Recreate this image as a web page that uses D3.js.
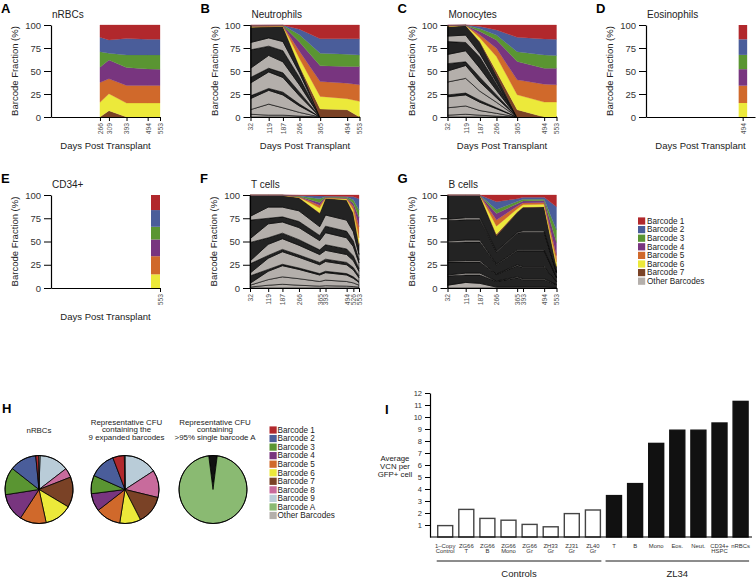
<!DOCTYPE html>
<html><head><meta charset="utf-8">
<script src="https://cdn.jsdelivr.net/npm/d3@7/dist/d3.min.js"></script>
<style>body{margin:0;background:#fff}svg{font-family:"Liberation Sans",Arial,Helvetica,sans-serif}</style>
</head><body><svg id="c" width="756" height="578"></svg>
<script>
// ---------------- DATA ----------------
const legendKeys = ["b1","b2","b3","b4","b5","b6","b7","other"];
const legendLabels = ["Barcode 1","Barcode 2","Barcode 3","Barcode 4","Barcode 5","Barcode 6","Barcode 7","Other Barcodes"];
const pieLegendKeys = ["b1","b2","b3","b4","b5","b6","b7","b8","b9","bA","other"];
const pieLegendLabels = ["Barcode 1","Barcode 2","Barcode 3","Barcode 4","Barcode 5","Barcode 6","Barcode 7","Barcode 8","Barcode 9","Barcode A","Other Barcodes"];

// A nRBCs  (rows: Barcode 1..7)
const nrbcDays = [266,309,393,494,553];
const nrbcBarcodes = [
  [13.4,16.2,14.8,15.5,15.5],
  [15.6,14.5,17.7,17.0,17.0],
  [17.0,7.3,13.7,15.2,15.5],
  [16.5,20.5,19.5,18.0,17.7],
  [21.6,16.2,19.1,19.1,19.1],
  [15.9,18.4,15.2,15.2,15.2],
  [0,6.9,0,0,0]
];
const nrbcOther = [];
const nrbcTicks = [266,309,393,494,553];

// B Neutrophils
const neutDays = [32,119,187,266,365,494,553];
const neutBarcodes = [
  [0.3,0.2,0.2,4.5,15,15,15],
  [0.3,0.3,0.2,6,15.7,16.8,17.5],
  [0.4,0.3,0.2,8,13.7,13.3,12.6],
  [0.3,0.3,0.2,10,17,18.1,19.9],
  [0.5,0.4,0.3,8,16.2,16.9,18],
  [0.6,0.4,0.3,8,13.7,12,17],
  [0.1,0.1,0.1,1,8.7,7.9,0]
];
const neutOther = [
  [3,2,2,1,0,0,0],
  [5,12,8,4,0,0,0],
  [12,15,14,7,0,0,0],
  [3,2,3,2,0,0,0],
  [14,18,16,9,0,0,0],
  [6,4,5,4,0,0,0],
  [10,14,12,8,0,0,0],
  [20,10,12,8,0,0,0],
  [8,9,10,5,0,0,0],
  [16.5,12,16.5,6.5,0,0,0]
];
const neutTicks = [32,119,187,266,365,494,553];

// C Monocytes
const monoDays = [32,119,187,266,365,494,553];
const monoBarcodes = [
  [0.2,0.05,1.5,5.4,13.4,15.2,15.5],
  [0.3,0.1,2.5,5.6,15.6,17.3,17.7],
  [0.3,0.05,3,5.2,10.7,14.5,13.8],
  [0.3,0.1,4,9.1,19.9,17.3,18],
  [0.3,0.05,3,9,16.2,19.5,18.8],
  [0.5,0.1,4,16.2,16.3,16.2,16.2],
  [0.1,0.05,1,4.5,7.9,0,0]
];
const monoOther = [
  [2,3,2,1,0,0,0],
  [8,9,5,3,0,0,0],
  [12,12,9,5,0,0,0],
  [2,2,2,1,0,0,0],
  [14,16,10,6,0,0,0],
  [12,14,10,5,0,0,0],
  [8,4,5,3,0,0,0],
  [10,12,10,5,0,0,0],
  [14,9,12,7,0,0,0],
  [6,8,4,2,0,0,0],
  [10,10.5,12,7,0,0,0]
];
const monoTicks = [32,119,187,266,365,494,553];

// D Eosinophils
const eosDays = [494];
const eosBarcodes = [[15.5],[17],[15.5],[18],[18.8],[15.2],[0]];
const eosOther = [];
const eosTicks = [494];

// E CD34+
const cd34Days = [553];
const cd34Barcodes = [[16.2],[18],[13.6],[18],[19.5],[14.7],[0]];
const cd34Other = [];
const cd34Ticks = [553];

// F T cells
const tDays = [32,119,187,266,365,393,494,526,553];
const tBarcodes = [
  [0.1,0.1,0.1,0.5,1,1,1.5,2,4],
  [0.1,0.1,0.1,0.5,3,0.6,1,3,12],
  [0.1,0.1,0.1,0.5,4,0.6,0.7,4,8],
  [0.05,0.05,0.05,0.4,3,0.5,0.5,3,10],
  [0.05,0.05,0.05,0.4,3,0.4,0.7,4,12],
  [0.05,0.05,0.05,0.5,5,0.4,0.9,3,6],
  [0.05,0.05,0.05,0.2,1,0.1,0.1,1,2]
];
const tOther = [
  [1,3,4,3,2,2.5,2,1.5,1],
  [2,6,8,7,5,6,5,4,2],
  [2,9,12,10,7,8,7,5,3],
  [8,2,1.5,1.5,1.5,1.5,1.5,1.5,1],
  [3,12,13.5,11.5,9.5,10.5,9.5,7.5,4],
  [10,3,2.5,2.5,2.5,2.5,2.5,2.5,2],
  [3,12,11.5,10.5,8.5,9.5,8.5,7.5,5],
  [20,7,6,6,5,6,6,5,3],
  [4,15,12,13,10,13,12,10,6],
  [20,6,5.5,6.5,5.5,7,7,6,3.5],
  [4,12,10.5,11.5,9.5,12,12,10,5.5],
  [22.5,12.5,12.5,14,14,17.9,21.6,19.5,10]
];
const tTicks = [32,119,187,266,365,393,494,526,553];

// G B cells
const bDays = [32,119,187,266,365,393,494,553];
const bBarcodes = [
  [0.1,0.1,0.1,7.2,4,2.5,2.5,12.6],
  [0.1,0.1,0.1,8.3,3,2,2,25],
  [0.1,0.1,0.1,4.3,2.5,2,1.5,13.5],
  [0.05,0.05,0.05,7.2,2.5,2,2,14],
  [0.05,0.05,0.05,6.5,3,2,2,7],
  [0.05,0.05,0.05,8.6,3,2.5,2.5,4.5],
  [0.05,0.05,0.05,2.1,1,0.5,0.5,0.5]
];
const bOther = [
  [3,6,5,1,1,1,1,0.5],
  [10,8,9,6,10,8,8,3],
  [1,2,2,0.5,1,1,1,0.3],
  [14,12,12,7,12,12,12,3],
  [1,1.5,1.5,0.5,1,1,1,0.3],
  [20,20,20,10,15,17,17,4],
  [1.5,2,2,0.8,1,1,1,0.3],
  [22,22,22,13,18,19,19,5],
  [1.5,2,2,1,1,1.5,1.5,0.5],
  [25.5,24,24,16,21,25,25.5,6]
];
const bTicks = [32,119,187,266,365,393,494,553];

// H pies (clockwise from 12 o'clock)
const pieNrbcKeys = ["b9","b8","b7","b6","b5","b4","b3","b2","b1","other"];
const pieNrbcValues = [14,4.5,14.4,13,12.5,13.3,13,12.8,1.4,0.6];
const pieCfu9Keys = ["b9","b8","b7","b6","b5","b4","b3","b2","b1","other"];
const pieCfu9Values = [15.8,13,13.7,10,12,8.5,8.7,12.5,5.5,0.3];
const pieCfuAKeys = ["other","bA"];
const pieCfuAValues = [4,96];

// I VCN bars
const vcnLabels = [["1–Copy","Control"],["ZG66","T"],["ZG66","B"],["ZG66","Mono"],["ZG66","Gr"],["ZH33","Gr"],["ZJ31","Gr"],["ZL40","Gr"],["T"],["B"],["Mono"],["Eos."],["Neut."],["CD34+","HSPC"],["nRBCs"]];
const vcnValues = [0.95,2.3,1.55,1.4,1.05,0.85,1.95,2.25,3.45,4.45,7.8,8.9,8.9,9.5,11.3];
const vcnGroups = ["Controls","Controls","Controls","Controls","Controls","Controls","Controls","Controls","ZL34","ZL34","ZL34","ZL34","ZL34","ZL34","ZL34"];
const vcnTicks = [1,2,3,4,5,6,7,8,9,10,11,12];

// ---------------- STYLE ----------------
const color = {b1:"#b1282c",b2:"#4a5d9a",b3:"#5a9532",b4:"#78357f",b5:"#d0692b",b6:"#ece93a",b7:"#7a4226",b8:"#c86b9c",b9:"#b9ccd8",bA:"#8aba72",other:"#b4afab"};
const darkFill = "#232323";
// shade pattern of the "other" sub-bands (L light, D dense/dark)
const shadeNeut = "LLLDLDLDLD";
const shadeMono = "LLLDLLDLDLD";
const shadeT = "LLLDLDLDLDLD";
const shadeB = "LDLDLDLDLD";

const svg = d3.select("#c");
const PW = 109;
const TXT = "#222";

function drawPanel(p){
  const x = d3.scaleLinear().domain([32,553]).range([p.left, p.left+PW]);
  const y = d3.scaleLinear().domain([0,100]).range([p.bottom, p.top]);
  const g = svg.append("g");
  const oKeys = p.other.map((_,i)=>"o"+i);
  const bKeys = ["b7","b6","b5","b4","b3","b2","b1"];
  const rows = p.days.map((d,i)=>{
    const r={day:d};
    p.other.forEach((s,j)=>r["o"+j]=s[i]);
    p.barcodes.forEach((s,j)=>r["b"+(j+1)]=s[i]);
    return r;
  });
  const series = d3.stack().keys([...oKeys,...bKeys])(rows);
  const fillOf = k => k[0]==="o" ? (p.shade[+k.slice(1)]==="D"?darkFill:color.other) : color[k];
  if(p.bar){
    series.forEach(s=>s.forEach(d=>{
      if(d[1]-d[0]<=0) return;
      g.append("rect").attr("x",x(d.data.day)+p.bar[0]).attr("width",p.bar[1]-p.bar[0])
       .attr("y",y(d[1])).attr("height",y(d[0])-y(d[1])).attr("fill",fillOf(s.key));
    }));
  } else {
    const area = d3.area().x(d=>x(d.data.day)).y0(d=>y(d[0])).y1(d=>y(d[1]));
    g.selectAll("path.band").data(series).join("path").attr("class","band")
      .attr("d",area).attr("fill",s=>fillOf(s.key))
      .attr("stroke",s=>s.key[0]==="o"?"#000":fillOf(s.key))
      .attr("stroke-width",s=>s.key[0]==="o"?0.6:0.3)
      .attr("stroke-linejoin","round");
  }
  // axes
  const ya = g.append("g").attr("transform",`translate(${p.left},0)`)
    .call(d3.axisLeft(y).tickValues([0,25,50,75,100]).tickSize(7).tickSizeOuter(0).tickPadding(3));
  ya.selectAll("text").attr("font-size",9.5).attr("fill","#333").attr("font-family","Liberation Sans, Arial");
  const xa = g.append("g").attr("transform",`translate(0,${p.bottom})`)
    .call(d3.axisBottom(x).tickValues(p.ticks).tickSize(4).tickSizeOuter(0).tickFormat(d3.format("d")));
  xa.selectAll("text").attr("transform","rotate(-90)").attr("x",-6).attr("y",0).attr("dy","0.35em")
    .attr("text-anchor","end").attr("font-size",6.8).attr("fill","#555").attr("font-family","Liberation Sans, Arial");
  g.selectAll(".domain").attr("stroke","#000").attr("stroke-width",1.2);
  g.selectAll(".tick line").attr("stroke","#000");
  // titles
  g.append("text").attr("x",p.left+1).attr("y",p.top-7).attr("font-size",10).attr("fill",TXT).text(p.title);
  g.append("text").attr("x",p.left-50).attr("y",p.top-12).attr("font-size",13).attr("font-weight","bold").attr("fill","#000").text(p.letter);
  g.append("text").attr("transform",`translate(${p.left-33},${(p.top+p.bottom)/2}) rotate(-90)`)
    .attr("text-anchor","middle").attr("font-size",9.5).attr("fill",TXT).text("Barcode Fraction (%)");
  if(p.xlabel){
    g.append("text").attr("x",p.left+PW/2).attr("y",p.bottom+32).attr("text-anchor","middle")
      .attr("font-size",9.5).attr("fill",TXT).text("Days Post Transplant");
  }
}

const T1=25, B1=117, T2=195, B2=288;
drawPanel({letter:"A",title:"nRBCs",left:51,top:T1,bottom:B1,days:nrbcDays,barcodes:nrbcBarcodes,other:nrbcOther,shade:"",ticks:nrbcTicks,xlabel:true});
drawPanel({letter:"B",title:"Neutrophils",left:250.5,top:T1,bottom:B1,days:neutDays,barcodes:neutBarcodes,other:neutOther,shade:shadeNeut,ticks:neutTicks,xlabel:true});
drawPanel({letter:"C",title:"Monocytes",left:447.5,top:T1,bottom:B1,days:monoDays,barcodes:monoBarcodes,other:monoOther,shade:shadeMono,ticks:monoTicks,xlabel:true});
drawPanel({letter:"D",title:"Eosinophils",left:646,top:T1,bottom:B1,days:eosDays,barcodes:eosBarcodes,other:eosOther,shade:"",ticks:eosTicks,xlabel:true,bar:[-4,4.5]});
drawPanel({letter:"E",title:"CD34+",left:51,top:T2,bottom:B2,days:cd34Days,barcodes:cd34Barcodes,other:cd34Other,shade:"",ticks:cd34Ticks,xlabel:true,bar:[-9,0]});
drawPanel({letter:"F",title:"T cells",left:250,top:T2,bottom:B2,days:tDays,barcodes:tBarcodes,other:tOther,shade:shadeT,ticks:tTicks,xlabel:false});
drawPanel({letter:"G",title:"B cells",left:447.5,top:T2,bottom:B2,days:bDays,barcodes:bBarcodes,other:bOther,shade:shadeB,ticks:bTicks,xlabel:false});

// legend (top right)
const lg = svg.append("g");
legendKeys.forEach((k,i)=>{
  const yy = 221 + i*8.6;
  lg.append("rect").attr("x",638).attr("y",yy-3.6).attr("width",7.2).attr("height",7.2).attr("fill",color[k]);
  lg.append("text").attr("x",647).attr("y",yy+2.8).attr("font-size",8.2).attr("fill",TXT).text(legendLabels[i]);
});

// ---------------- H pies ----------------
svg.append("text").attr("x",2).attr("y",413).attr("font-size",13).attr("font-weight","bold").text("H");
const pieR = 34;
const arc = d3.arc().innerRadius(0).outerRadius(pieR);
function drawPie(cx,cy,keys,vals,titleLines,start,otherFill,tdx){
  const pie = d3.pie().sort(null).value(d=>d.v).startAngle(start).endAngle(start+2*Math.PI);
  const data = pie(keys.map((k,i)=>({k,v:vals[i]})));
  const g = svg.append("g").attr("transform",`translate(${cx},${cy})`);
  g.selectAll("path").data(data).join("path").attr("d",arc)
    .attr("fill",d=>d.data.k==="other"?otherFill:color[d.data.k]).attr("stroke","#000").attr("stroke-width",0.8);
  g.append("circle").attr("r",pieR).attr("fill","none").attr("stroke","#000").attr("stroke-width",0.9);
  titleLines.forEach((t,i)=>{
    svg.append("text").attr("x",cx+tdx).attr("y",titleLines.length===1?433:424.7+i*7.7).attr("text-anchor","middle")
      .attr("font-size",7.9).attr("fill",TXT).text(t);
  });
}
drawPie(39,489.5,pieNrbcKeys,pieNrbcValues,["nRBCs"],0.03,color.other,0);
drawPie(125,489.5,pieCfu9Keys,pieCfu9Values,["Representative CFU","containing the","9 expanded barcodes"],0,color.other,1.5);
drawPie(213,489.5,pieCfuAKeys,pieCfuAValues,["Representative CFU","containing",">95% single barcode A"],-Math.PI*0.04,"#111",2);

const lg2 = svg.append("g");
pieLegendKeys.forEach((k,i)=>{
  const yy = 430 + i*8.55;
  lg2.append("rect").attr("x",269.5).attr("y",yy-3.6).attr("width",7.2).attr("height",7.2).attr("fill",color[k]);
  lg2.append("text").attr("x",277.5).attr("y",yy+2.8).attr("font-size",8.2).attr("fill",TXT).text(pieLegendLabels[i]);
});

// ---------------- I bars ----------------
svg.append("text").attr("x",385).attr("y",414).attr("font-size",13).attr("font-weight","bold").text("I");
const xI = d3.scaleBand().domain(d3.range(vcnValues.length)).range([435.6,750.2]).paddingInner(0.29).paddingOuter(0.1);
const yI = d3.scaleLinear().domain([0,12]).range([537,393]);
const gI = svg.append("g");
gI.selectAll("rect").data(vcnValues).join("rect")
  .attr("x",(d,i)=>xI(i)).attr("width",xI.bandwidth())
  .attr("y",d=>yI(d)).attr("height",d=>yI(0)-yI(d))
  .attr("fill",(d,i)=>vcnGroups[i]==="Controls"?"#fff":"#111")
  .attr("stroke",(d,i)=>vcnGroups[i]==="Controls"?"#444":"#111").attr("stroke-width",1.4);
const yaI = gI.append("g").attr("transform","translate(430,0)")
  .call(d3.axisLeft(yI).tickValues(vcnTicks).tickSize(5).tickSizeOuter(0).tickPadding(3));
yaI.selectAll("text").attr("font-size",7.5).attr("fill","#333").attr("font-family","Liberation Sans, Arial");
gI.append("line").attr("x1",430).attr("x2",752).attr("y1",537).attr("y2",537).attr("stroke","#000").attr("stroke-width",1.2);
yaI.select(".domain").attr("stroke-width",1.2);
vcnLabels.forEach((lines,i)=>{
  lines.forEach((t,j)=>{
    gI.append("text").attr("x",xI(i)+xI.bandwidth()/2).attr("y",547.5+j*5.6).attr("text-anchor","middle")
      .attr("font-size",5.9).attr("fill","#333").text(t);
  });
});
["Average","VCN per","GFP+ cell"].forEach((t,i)=>{
  gI.append("text").attr("x",395).attr("y",460.5+i*8).attr("text-anchor","middle").attr("font-size",7.8).attr("fill",TXT).text(t);
});
["Controls","ZL34"].forEach(grp=>{
  const idx = d3.range(vcnGroups.length).filter(i=>vcnGroups[i]===grp);
  const x1 = xI(idx[0])-1, x2 = xI(idx[idx.length-1])+xI.bandwidth()+1;
  gI.append("line").attr("x1",x1).attr("x2",x2).attr("y1",561).attr("y2",561).attr("stroke","#000").attr("stroke-width",0.9);
  gI.append("text").attr("x",(x1+x2)/2).attr("y",577).attr("text-anchor","middle").attr("font-size",9.5).attr("fill",TXT).text(grp);
});
</script>
</body></html>
